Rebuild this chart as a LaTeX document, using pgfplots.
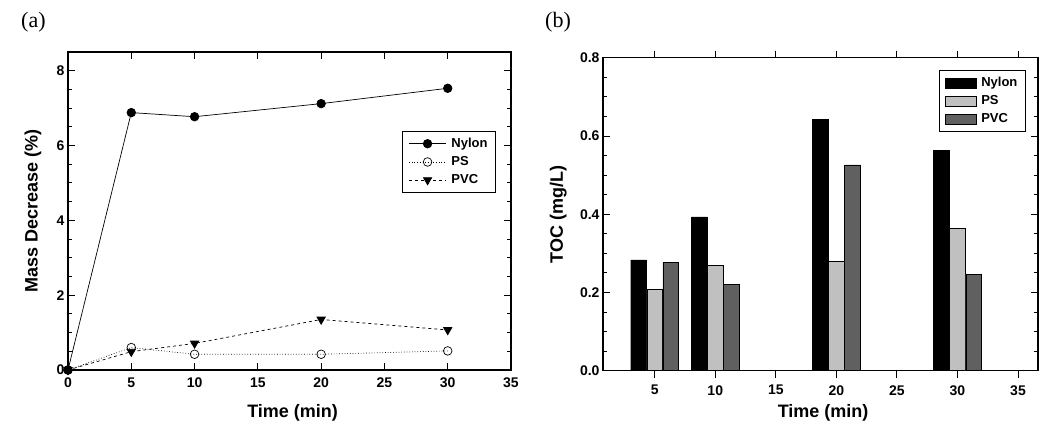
\documentclass[border=0pt]{standalone}
\usepackage{fontspec}
\setmainfont{Liberation Sans}
\newfontfamily\seriffont{Liberation Serif}
\usepackage{pgfplots}
\pgfplotsset{compat=1.18}
\definecolor{psgray}{HTML}{C0C0C0}
\definecolor{pvcgray}{HTML}{606060}
\pgfplotsset{
  mystyle/.style={
    scale only axis,
    axis line style={line width=1.3pt},
    tick style={line width=0.9pt, black},
    major tick length=7pt,
    minor tick length=4pt,
    tick align=inside,
    ticklabel style={font=\bfseries\fontsize{14}{14}\selectfont},
    xticklabel style={yshift=-4pt},
    label style={font=\bfseries\fontsize{18}{18}\selectfont},
    /pgf/number format/assume math mode=true,
    legend style={font=\bfseries\fontsize{13}{13}\selectfont, draw=black, line width=0.8pt, inner xsep=6pt, inner ysep=5pt, row sep=3.5pt},
    legend cell align=left,
  }
}
\begin{document}
\begin{tikzpicture}
\path[use as bounding box] (0pt,0pt) rectangle (1053pt,425pt);
\node[anchor=west, font=\seriffont\fontsize{22}{22}\selectfont, inner sep=0pt] at (21pt,403pt) {(a)};
\node[anchor=west, font=\seriffont\fontsize{22}{22}\selectfont, inner sep=0pt] at (545pt,403pt) {(b)};

\begin{axis}[mystyle,
  at={(68pt,55pt)}, anchor=south west, width=443pt, height=318pt,
  xmin=0, xmax=35, ymin=0, ymax=8.5,
  xtick={0,5,...,35}, ytick={0,2,4,6,8},
  minor y tick num=3,
  xlabel={Time (min)}, ylabel={Mass Decrease (\%)},
  xlabel style={at={(axis description cs:0.507,-0.135)}, anchor=center},
  ylabel style={at={(axis description cs:-0.079,0.5)}, anchor=center},
  clip=false,
  legend style={at={(axis description cs:0.966,0.752)}, anchor=north east},
  legend image code/.code={\draw[#1] (0pt,0pt) -- (37pt,0pt); \draw[#1,mark repeat=2,mark phase=2] plot coordinates {(0pt,0pt) (18.5pt,0pt) (37pt,0pt)}; \path (40pt,0pt);},
]
\addplot[black, line width=0.7pt, mark=*, mark size=4.3pt] coordinates {(0,0) (5,6.88) (10,6.77) (20,7.12) (30,7.53)};
\addlegendentry{Nylon}
\addplot[black, line width=0.7pt, dotted, mark=o, mark size=4.3pt, mark options={solid, fill=white}] coordinates {(0,0) (5,0.6) (10,0.42) (20,0.42) (30,0.51)};
\addlegendentry{PS}
\addplot[black, line width=0.7pt, dashed, mark=triangle*, mark size=4.8pt, mark options={solid, rotate=180}] coordinates {(0,0) (5,0.49) (10,0.71) (20,1.35) (30,1.07)};
\addlegendentry{PVC}
\end{axis}

\begin{axis}[mystyle,
  at={(603pt,54.3pt)}, anchor=south west, width=435pt, height=313pt,
  xmin=0.73, xmax=36.65, ymin=0, ymax=0.8,
  xtick={5,10,...,35}, ytick={0,0.2,0.4,0.6,0.8},
  yticklabel style={/pgf/number format/.cd, fixed, fixed zerofill, precision=1},
  minor y tick num=3,
  xlabel={Time (min)}, ylabel={TOC (mg/L)},
  xlabel style={at={(axis description cs:0.506,-0.135)}, anchor=center},
  ylabel style={at={(axis description cs:-0.103,0.5)}, anchor=center},
  ybar, bar width=1.3,
  legend style={at={(axis description cs:0.972,0.961)}, anchor=north east},
  legend image code/.code={\draw[#1, line width=0.4pt] (0pt,-5pt) rectangle (31pt,5pt); \path (34pt,0pt);},
]
\addplot[draw=black, line width=0.4pt, fill=black, bar shift=-1.33] coordinates {(5,0.283) (10,0.393) (20,0.643) (30,0.563)};
\addlegendentry{Nylon}
\addplot[draw=black, line width=0.4pt, fill=psgray, bar shift=0] coordinates {(5,0.208) (10,0.269) (20,0.279) (30,0.364)};
\addlegendentry{PS}
\addplot[draw=black, line width=0.4pt, fill=pvcgray, bar shift=1.33] coordinates {(5,0.277) (10,0.221) (20,0.526) (30,0.247)};
\addlegendentry{PVC}
\end{axis}
\end{tikzpicture}
\end{document}
